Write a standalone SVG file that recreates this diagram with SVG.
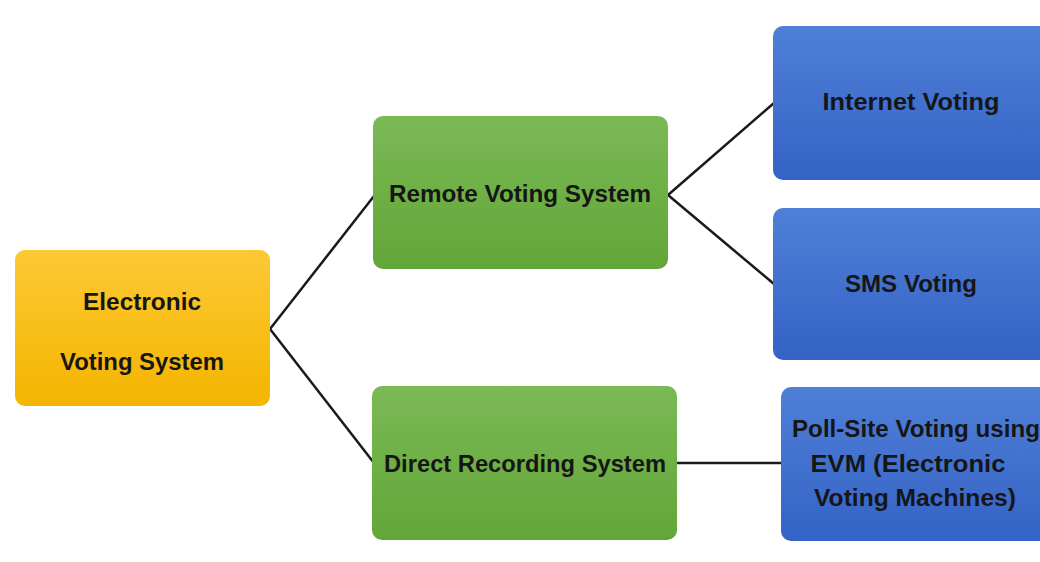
<svg xmlns="http://www.w3.org/2000/svg" width="1040" height="562" viewBox="0 0 1040 562">
<defs>
<linearGradient id="gY" x1="0" y1="0" x2="0" y2="1"><stop offset="0" stop-color="#fdc834"/><stop offset="1" stop-color="#f4b500"/></linearGradient>
<linearGradient id="gG" x1="0" y1="0" x2="0" y2="1"><stop offset="0" stop-color="#7bb955"/><stop offset="1" stop-color="#62a638"/></linearGradient>
<linearGradient id="gB" x1="0" y1="0" x2="0" y2="1"><stop offset="0" stop-color="#4f80d6"/><stop offset="1" stop-color="#3462c6"/></linearGradient>
</defs>
<style>
.lbl{font-family:"Liberation Sans",Arial,sans-serif;font-weight:bold;font-size:23px;fill:#161616;text-anchor:middle}
.conn{stroke:#1a1a1a;stroke-width:2.5;fill:none}
</style>
<rect width="1040" height="562" fill="#ffffff"/>
<g id="connectors">
<line class="conn" x1="270" y1="329" x2="374" y2="196"/>
<line class="conn" x1="270" y1="329" x2="374" y2="463"/>
<line class="conn" x1="668" y1="195" x2="774" y2="103"/>
<line class="conn" x1="668" y1="195" x2="774" y2="284"/>
<line class="conn" x1="677" y1="463" x2="782" y2="463" stroke-width="3"/>
</g>
<g id="n-electronic">
<rect x="15" y="250" width="255" height="156" rx="10" fill="url(#gY)"/>
<text class="lbl" x="142" y="310" textLength="118" lengthAdjust="spacingAndGlyphs">Electronic</text>
<text class="lbl" x="142" y="370" textLength="164" lengthAdjust="spacingAndGlyphs">Voting System</text>
</g>
<g id="n-remote">
<rect x="373" y="116" width="295" height="153" rx="10" fill="url(#gG)"/>
<text class="lbl" x="520" y="202" textLength="262" lengthAdjust="spacingAndGlyphs">Remote Voting System</text>
</g>
<g id="n-direct">
<rect x="372" y="386" width="305" height="154" rx="10" fill="url(#gG)"/>
<text class="lbl" x="525" y="472" textLength="282" lengthAdjust="spacingAndGlyphs">Direct Recording System</text>
</g>
<g id="n-internet">
<rect x="773" y="26" width="285" height="154" rx="10" fill="url(#gB)"/>
<text class="lbl" x="911" y="110" textLength="177" lengthAdjust="spacingAndGlyphs">Internet Voting</text>
</g>
<g id="n-sms">
<rect x="773" y="208" width="285" height="152" rx="10" fill="url(#gB)"/>
<text class="lbl" x="911" y="292" textLength="132" lengthAdjust="spacingAndGlyphs">SMS Voting</text>
</g>
<g id="n-poll">
<rect x="781" y="387" width="277" height="154" rx="10" fill="url(#gB)"/>
<text class="lbl" x="916" y="437" textLength="248" lengthAdjust="spacingAndGlyphs">Poll-Site Voting using</text>
<text class="lbl" x="908" y="472" textLength="195" lengthAdjust="spacingAndGlyphs">EVM (Electronic</text>
<text class="lbl" x="915" y="506" textLength="202" lengthAdjust="spacingAndGlyphs">Voting Machines)</text>
</g>
</svg>
